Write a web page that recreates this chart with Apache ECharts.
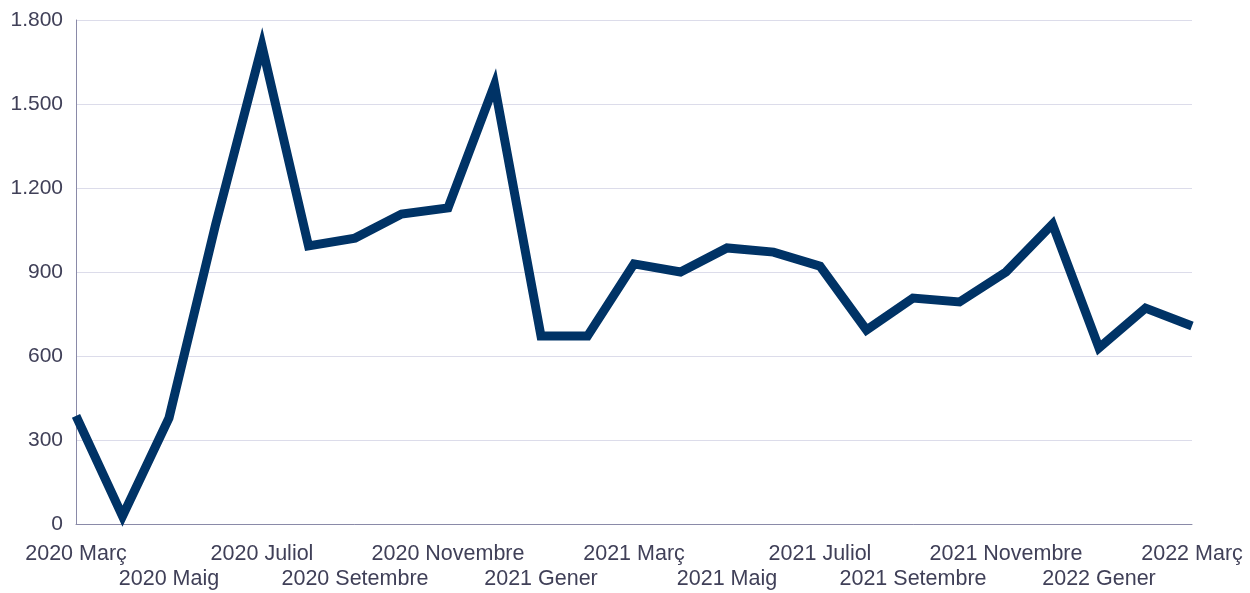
<!DOCTYPE html>
<html><head><meta charset="utf-8">
<script src="https://cdn.jsdelivr.net/npm/echarts@6/dist/echarts.min.js"></script>
<style>html,body{margin:0;padding:0;background:#fff}#c{width:1250px;height:593px}</style>
</head><body><div id="c"></div>
<script>
const months = ["2020 Març","2020 Abril","2020 Maig","2020 Juny","2020 Juliol","2020 Agost","2020 Setembre","2020 Octubre","2020 Novembre","2020 Desembre",
"2021 Gener","2021 Febrer","2021 Març","2021 Abril","2021 Maig","2021 Juny","2021 Juliol","2021 Agost","2021 Setembre","2021 Octubre","2021 Novembre","2021 Desembre",
"2022 Gener","2022 Febrer","2022 Març"];
const values = [386,28,379,1068,1707,993,1021,1107,1129,1568,671,671,929,900,986,971,921,693,807,793,900,1071,629,771,707];
const yTicks = [0,300,600,900,1200,1500,1800];

const chart = echarts.init(document.getElementById('c'));
const txt = '#404058';
const lbl = {color:txt,fontSize:21.5,fontFamily:'Liberation Sans, Arial',hideOverlap:false,showMinLabel:true,showMaxLabel:true};
chart.setOption({
  animation:false,
  grid:{left:76,right:58,top:20,bottom:69,containLabel:false},
  xAxis:[
    {type:'category',data:months,boundaryGap:false,position:'bottom',
     axisLine:{lineStyle:{color:'#8a8aa8',width:1}},axisTick:{show:false},
     axisLabel:Object.assign({},lbl,{margin:19,interval:function(i){return i%4===0;}}),
     splitLine:{show:false}},
    {type:'category',data:months,boundaryGap:false,position:'bottom',
     axisLine:{show:false},axisTick:{show:false},
     axisLabel:Object.assign({},lbl,{margin:44,interval:function(i){return i%4===2;}}),
     splitLine:{show:false}}
  ],
  yAxis:{type:'value',min:yTicks[0],max:yTicks[yTicks.length-1],interval:300,
    axisLine:{show:true,lineStyle:{color:'#8a8aa8',width:1}},
    axisTick:{show:false},
    axisLabel:{color:txt,fontSize:21,fontFamily:'Liberation Sans, Arial',margin:13,
      formatter:function(v){return String(v).replace(/\B(?=(\d{3})+(?!\d))/g,'.');}},
    splitLine:{lineStyle:{color:'#dcdcea',width:1}}},
  series:[{type:'line',xAxisIndex:0,data:values,symbol:'none',lineStyle:{color:'#003366',width:9,join:'miter'},itemStyle:{color:'#003366'}}]
});
</script></body></html>
